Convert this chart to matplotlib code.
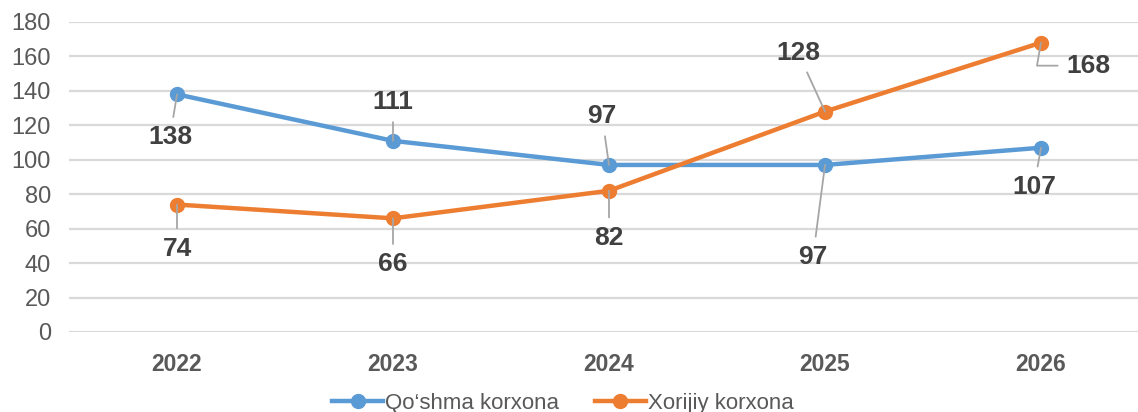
import matplotlib
matplotlib.use("Agg")
import matplotlib.pyplot as plt

years = ["2022", "2023", "2024", "2025", "2026"]
qoshma = [138, 111, 97, 97, 107]
xorijiy = [74, 66, 82, 128, 168]
# label offsets in pixels (dx, dy) relative to the point
qoshma_off = [(-7, -43), (0, 39), (-7, 49), (-12, -92), (-7, -39)]
xorijiy_off = [(0, -44), (0, -46), (0, -47), (-27, 59), (47, -23)]

plt.rcParams['font.family'] = ['Liberation Sans', 'DejaVu Sans']

fig = plt.figure(figsize=(11.38, 4.12), dpi=100)
ax = fig.add_axes([69/1138, 80/412, 1 - 69/1138, 310/412])

blue = "#5b9bd5"
orange = "#ed7d31"
x = list(range(len(years)))
ax.plot(x, qoshma, color=blue, lw=3.2, marker='o', ms=10, zorder=4, label="Qo‘shma korxona")
ax.plot(x, xorijiy, color=orange, lw=3.2, marker='o', ms=10, zorder=4, label="Xorijiy korxona")

ax.set_ylim(0, 180)
ax.set_xlim(-0.5, (1138 - 177) / 216)
ax.set_yticks(range(0, 181, 20))
ax.set_xticks(x)
ax.set_xticklabels(years, fontsize=16.5, fontweight='bold', color='#595959')
ax.tick_params(axis='y', labelsize=17, colors='#595959', length=0, pad=13)
ax.tick_params(axis='x', length=0, pad=15)
ax.grid(axis='y', color='#d9d9d9', lw=1.6)
ax.set_axisbelow(True)
for s in ax.spines.values():
    s.set_visible(False)

def label(series, offs):
    for i, (v, (dx, dy)) in enumerate(zip(series, offs)):
        cs = "arc3"
        if dx > 30:
            cs = "angle,angleA=0,angleB=80,rad=0"
        ax.annotate(str(v), xy=(i, v), xytext=(dx, dy), textcoords='offset pixels',
                    ha='center', va='center', fontsize=19, fontweight='bold', color='#404040',
                    arrowprops=dict(arrowstyle='-', color='#a6a6a6', lw=1.3,
                                    shrinkA=4, shrinkB=0, connectionstyle=cs),
                    zorder=5)

label(qoshma, qoshma_off)
label(xorijiy, xorijiy_off)

fig.legend(loc='center', bbox_to_anchor=(563/1138, 1 - 403/412), ncol=2, frameon=False,
           fontsize=16, labelcolor='#595959', handlelength=2.3, handletextpad=0.1,
           columnspacing=1.6)

fig.savefig("out.png", dpi=100)
